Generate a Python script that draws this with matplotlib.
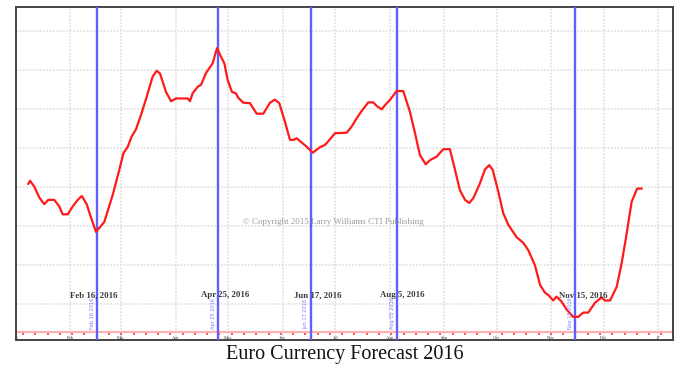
import pandas as pd
import matplotlib
matplotlib.use("Agg")
import matplotlib.pyplot as plt

# =========================
# DATA
# =========================
START = pd.Timestamp("2016-01-01")

# days after Jan 1 2016
days = [7.0, 8.0, 10.4, 13.3, 16.1, 18.4, 21.8, 24.7, 26.6, 29.5, 32.3, 35.2,
        37.5, 40.3, 42.8, 45.6, 50.3, 55.1, 58.9, 61.2, 63.7, 65.9, 68.4, 71.3,
        75.1, 77.9, 80.2, 82.1, 85.5, 88.4, 91.2, 97.9, 99.2, 100.7, 103.6,
        105.5, 108.3, 112.1, 114.6, 116.9, 118.8, 120.7, 123.1, 125.4, 126.7,
        129.6, 133.4, 137.2, 141.0, 144.8, 147.6, 150.1, 153.3, 156.2, 158.5,
        160.0, 162.9, 165.3, 169.2, 173.3, 176.2, 178.0, 181.9, 188.5, 191.4,
        194.2, 197.1, 200.9, 203.7, 205.6, 208.5, 210.4, 213.2, 217.0, 220.8,
        224.6, 227.5, 230.3, 233.6, 236.1, 239.9, 243.6, 247.4, 250.3, 253.1,
        256.0, 258.4, 260.7, 264.5, 267.4, 269.8, 271.8, 275.0, 277.8, 280.7,
        285.5, 289.2, 292.1, 295.9, 298.8, 301.6, 303.5, 306.3, 308.2, 311.1,
        313.9, 317.7, 320.6, 323.4, 326.3, 330.1, 333.9, 335.8, 338.7, 342.5,
        345.3, 348.2, 351.0, 354.2, 356.7]

forecast = [4.08, 4.16, 4.01, 3.73, 3.56, 3.67, 3.67, 3.50, 3.30, 3.30, 3.50, 3.67,
            3.77, 3.56, 3.21, 2.85, 3.10, 3.79, 4.44, 4.86, 5.03, 5.29, 5.48, 5.85,
            6.40, 6.83, 6.98, 6.91, 6.44, 6.20, 6.27, 6.27, 6.20, 6.40, 6.57,
            6.62, 6.92, 7.17, 7.56, 7.34, 7.17, 6.74, 6.44, 6.40, 6.29,
            6.16, 6.15, 5.88, 5.88, 6.16, 6.24, 6.15, 5.68, 5.21, 5.21,
            5.25, 5.14, 5.05, 4.88, 5.02, 5.08, 5.17, 5.38, 5.39, 5.55,
            5.76, 5.95, 6.17, 6.17, 6.08, 5.99, 6.10, 6.23, 6.46, 6.46,
            5.93, 5.38, 4.82, 4.58, 4.69, 4.78, 4.97, 4.97, 4.44, 3.92,
            3.67, 3.59, 3.71, 4.09, 4.45, 4.56, 4.44, 3.88, 3.33, 3.03,
            2.71, 2.57, 2.38, 1.99, 1.49, 1.29, 1.23, 1.09, 1.19, 1.06,
            0.86, 0.67, 0.67, 0.78, 0.78, 1.03, 1.17, 1.09, 1.09, 1.44,
            2.04, 2.81, 3.62, 3.96, 3.96]

turn_dates = ["2016-02-16", "2016-04-25", "2016-06-17", "2016-08-05", "2016-11-15"]
turn_labels = ["Feb 16, 2016", "Apr 25, 2016", "Jun 17, 2016", "Aug 5, 2016", "Nov 15, 2016"]

month_labels = ["16", "Feb", "Mar", "Apr", "May", "Jun", "Jul",
                "Aug", "Sep", "Oct", "Nov", "Dec", "17"]

TITLE = "Euro Currency Forecast 2016"
COPYRIGHT = "\u00a9 Copyright 2015 Larry Williams CTI Publishing"

# =========================
# PLOT
# =========================
x = START + pd.to_timedelta(days, unit="D")
turns = pd.to_datetime(turn_dates)
months = pd.date_range("2016-01-01", "2017-01-01", freq="MS")

fig = plt.figure(figsize=(6.9, 3.75), dpi=100)
ax = fig.add_axes([16 / 690, 1 - 340 / 375, 657 / 690, 333 / 375])

ax.set_xlim(START, START + pd.Timedelta(days=374.6))
ax.set_ylim(0.077, 8.615)

# grid (light dotted)
for m in months:
    ax.axvline(m, color="#dedede", lw=1.1, ls=(0, (1.2, 1.0)), zorder=0)
for g in range(1, 9):
    ax.axhline(g, color="#dedede", lw=1.1, ls=(0, (1.2, 1.0)), zorder=0)

# pink base line with small tick dots
ax.axhline(0.28, color="#ffb0b0", lw=1.6, zorder=1)
weeks = pd.date_range("2016-01-05", "2017-01-08", freq="7D")
ax.scatter(weeks, [0.24] * len(weeks), s=1.3, marker="s", color="#ff5a5a",
           zorder=2, linewidths=0)

# forecast line
ax.plot(x, forecast, color="#ff1a1a", lw=1.6, zorder=4)

# turning point lines
for d, lab in zip(turns, turn_labels):
    ax.axvline(d, color="#5f5fff", lw=1.7, zorder=3)
    off = -19.5 if d.month == 2 else -12.2
    ax.annotate(lab, (d, 1.23), xytext=(off, 0), textcoords="offset points",
                ha="left", va="center", fontsize=6.3, family="Liberation Serif",
                fontweight="bold", color="#3a3a3a", zorder=5)
    ax.annotate(d.strftime("%b %d %Y"), (d, 0.36), xytext=(-3.3, 0),
                textcoords="offset points", rotation=90, ha="center",
                va="bottom", fontsize=3.6, color="#7a7aff", zorder=5)

# month labels inside the frame
for m, lab in zip(months, month_labels):
    ax.text(m, 0.13, lab, ha="center", va="center", fontsize=3.4,
            family="Liberation Serif", color="#444444")

ax.text(START + pd.Timedelta(days=181), 3.11, COPYRIGHT, ha="center", va="center",
        fontsize=6.5, family="Liberation Serif", color="#9a9a9a")

ax.set_xticks([])
ax.set_yticks([])
for s in ax.spines.values():
    s.set_color("#444444")
    s.set_linewidth(1.4)

fig.text(345 / 690, 1 - 354 / 375, TITLE, ha="center", va="center",
         fontsize=14.5, family="Liberation Serif", color="#111111")

fig.savefig("out.png", dpi=100)
